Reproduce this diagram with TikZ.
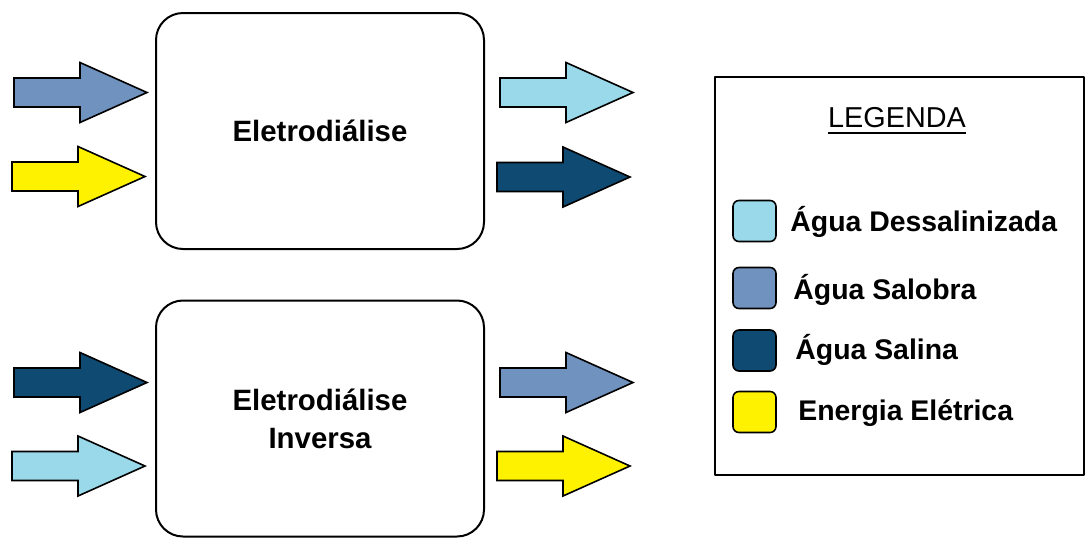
\documentclass[tikz,border=0pt]{standalone}
\usepackage{fontspec}
\setmainfont{Liberation Sans}
\definecolor{dessal}{HTML}{99D9EA}
\definecolor{salobra}{HTML}{7092BE}
\definecolor{salina}{HTML}{0F4A73}
\definecolor{eletrica}{HTML}{FFF200}
\tikzset{
  flow/.pic={\draw[line width=0.8pt,line join=miter,fill=#1] (-66,-14.5) -- (0,-14.5) -- (0,-30) -- (67,0) -- (0,30) -- (0,14.5) -- (-66,14.5) -- cycle;},
  procbox/.style={draw,line width=1pt,rounded corners=13.5pt,minimum width=164pt,minimum height=118pt,align=center,font=\bfseries\fontsize{14.7}{19}\selectfont},
  swatch/.style={draw,line width=0.8pt,rounded corners=3pt,minimum width=21.5pt,minimum height=20.5pt,inner sep=0pt},
  legtext/.style={anchor=west,inner sep=0pt,font=\bfseries\fontsize{14.2}{17}\selectfont}
}
\begin{document}
\begin{tikzpicture}[x=0.5pt,y=-0.5pt,line cap=round,line join=round]
\useasboundingbox (0,0) rectangle (1086,538);
\node[procbox] (ed) at (320,131) {Eletrodiálise};
\node[procbox] (edi) at (320,418.5) {Eletrodiálise\\Inversa};
\pic at (80,92.5) {flow=salobra};
\pic at (78,176.5) {flow=eletrica};
\pic at (566,92.5) {flow=dessal};
\pic at (563,177) {flow=salina};
\pic at (80,382.5) {flow=salina};
\pic at (78,466) {flow=dessal};
\pic at (566,382.5) {flow=salobra};
\pic at (563,466) {flow=eletrica};
\node[draw,line width=1pt,minimum width=184.5pt,minimum height=199pt] (legenda) at (899.5,276) {};
\node[inner sep=0pt,font=\fontsize{14.4}{17}\selectfont] (ttl) at (897,118) {LEGENDA};
\draw[line width=1.4pt,line cap=butt] ([yshift=-2.5pt]ttl.base west) -- ([yshift=-2.5pt]ttl.base east);
\node[swatch,fill=dessal] (sw1) at (754.5,221) {};
\node[legtext] (lt1) at (790,222) {Água Dessalinizada};
\node[swatch,fill=salobra] (sw2) at (754.5,288) {};
\node[legtext] (lt2) at (793,290) {Água Salobra};
\node[swatch,fill=salina] (sw3) at (754.5,350.5) {};
\node[legtext] (lt3) at (795,350) {Água Salina};
\node[swatch,fill=eletrica] (sw4) at (754.5,412) {};
\node[legtext] (lt4) at (798,413) {Energia Elétrica};
\end{tikzpicture}
\end{document}
